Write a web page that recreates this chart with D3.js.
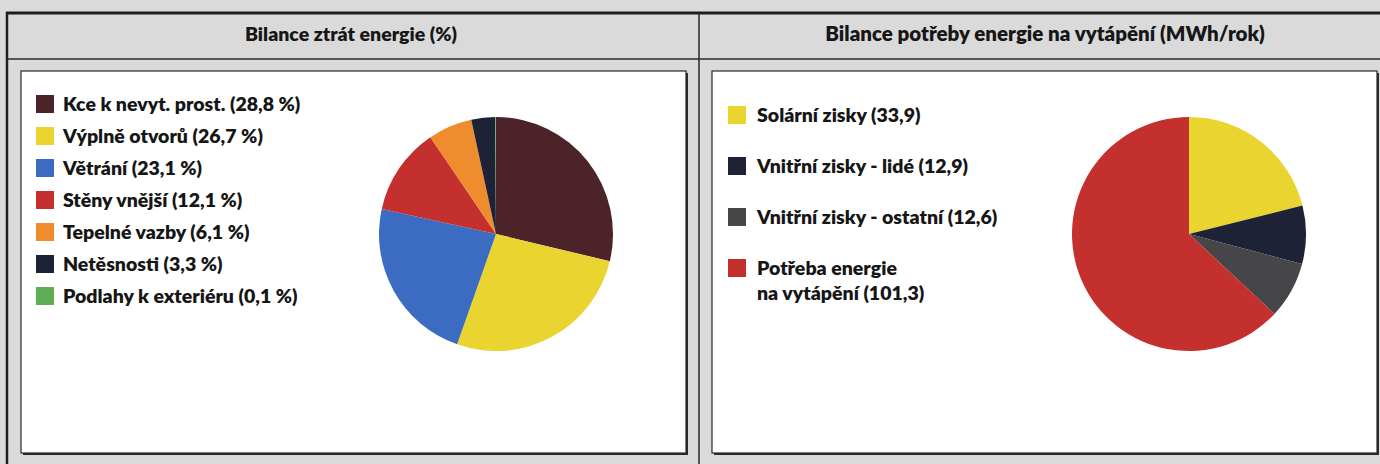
<!DOCTYPE html>
<html>
<head>
<meta charset="utf-8">
<script src="https://cdn.jsdelivr.net/npm/d3@7/dist/d3.min.js"></script>
<style>
  body { margin: 0; background: #dadada; }
  svg { display: block; }
  text { font-family: Lato, "Open Sans", sans-serif; font-weight: 800; fill: #161616; }
</style>
</head>
<body>
<svg id="chart" width="1380" height="464"></svg>
<script>
// --- data ---
const lossTitle = "Bilance ztrát energie (%)";
const lossLabels = ["Kce k nevyt. prost.", "Výplně otvorů", "Větrání", "Stěny vnější", "Tepelné vazby", "Netěsnosti", "Podlahy k exteriéru"];
const lossValues = [28.8, 26.7, 23.1, 12.1, 6.1, 3.3, 0.1];
const lossColors = ["#4b2329", "#ead42f", "#3b6cc2", "#c4302d", "#ee8c2e", "#1d2236", "#5fae55"];

const heatTitle = "Bilance potřeby energie na vytápění (MWh/rok)";
const heatLabels = ["Solární zisky", "Vnitřní zisky - lidé", "Vnitřní zisky - ostatní", "Potřeba energie\nna vytápění"];
const heatValues = [33.9, 12.9, 12.6, 101.3];
const heatColors = ["#ead42f", "#1d2236", "#464547", "#c4302d"];

const svg = d3.select("#chart");

// outer frame
svg.append("rect").attr("x", 0).attr("y", 0).attr("width", 1380).attr("height", 464).attr("fill", "#dadada");
svg.append("line").attr("x1", 6).attr("x2", 1380).attr("y1", 13).attr("y2", 13)
  .attr("stroke", "#1e1e1e").attr("stroke-width", 3);
svg.append("line").attr("x1", 7).attr("x2", 7).attr("y1", 12).attr("y2", 464)
  .attr("stroke", "#1e1e1e").attr("stroke-width", 2.5);
svg.append("line").attr("x1", 6).attr("x2", 1380).attr("y1", 59).attr("y2", 59)
  .attr("stroke", "#2a2a2a").attr("stroke-width", 1.5);
svg.append("line").attr("x1", 699).attr("x2", 699).attr("y1", 13).attr("y2", 464)
  .attr("stroke", "#2a2a2a").attr("stroke-width", 1.5);

function fmt(v) {
  return String(v).replace(".", ",");
}

function drawPanel(opts) {
  const g = svg.append("g");

  // header title
  g.append("text")
    .attr("x", opts.titleX).attr("y", 41)
    .attr("text-anchor", "middle")
    .style("font-size", opts.titleSize + "px")
    .text(opts.title);

  // white box with shadow on right/bottom
  g.append("rect")
    .attr("x", opts.box[0] + 2).attr("y", opts.box[1] + 2)
    .attr("width", opts.box[2]).attr("height", opts.box[3])
    .attr("fill", "#2a2a2a");
  g.append("rect")
    .attr("x", opts.box[0]).attr("y", opts.box[1])
    .attr("width", opts.box[2]).attr("height", opts.box[3])
    .attr("fill", "#fff").attr("stroke", "#2a2a2a").attr("stroke-width", 1.2);

  // pie
  const pie = d3.pie().sort(null).value(d => d.value);
  const arc = d3.arc().innerRadius(0).outerRadius(opts.radius);
  const data = opts.labels.map((l, i) => ({ label: l, value: opts.values[i], color: opts.colors[i] }));

  g.append("g")
    .attr("transform", `translate(${opts.center[0]},${opts.center[1]})`)
    .selectAll("path")
    .data(pie(data))
    .join("path")
    .attr("d", arc)
    .attr("fill", d => d.data.color);

  // legend
  const leg = g.append("g").attr("transform", `translate(${opts.legend[0]},${opts.legend[1]})`);
  const item = leg.selectAll("g")
    .data(data)
    .join("g")
    .attr("transform", (d, i) => `translate(0,${i * opts.legendStep})`);

  item.append("rect")
    .attr("x", 0).attr("y", -9)
    .attr("width", 18).attr("height", 18)
    .attr("fill", d => d.color);

  item.append("text")
    .attr("x", opts.textDx)
    .style("font-size", "19.5px")
    .selectAll("tspan")
    .data(d => {
      const lines = d.label.split("\n");
      lines[lines.length - 1] += ` (${fmt(d.value)}${opts.unit})`;
      return lines;
    })
    .join("tspan")
    .attr("x", opts.textDx)
    .attr("y", (d, i) => 7 + i * 25)
    .text(d => d);
}

drawPanel({
  title: lossTitle, titleX: 351, titleSize: 19.5,
  labels: lossLabels, values: lossValues, colors: lossColors, unit: " %",
  box: [21, 71, 665, 382],
  center: [496, 234], radius: 117,
  legend: [36, 104], legendStep: 32, textDx: 27
});

drawPanel({
  title: heatTitle, titleX: 1045, titleSize: 20.5,
  labels: heatLabels, values: heatValues, colors: heatColors, unit: "",
  box: [712, 71, 665, 382],
  center: [1189, 234], radius: 117,
  legend: [728, 115], legendStep: 51, textDx: 29
});
</script>
</body>
</html>
